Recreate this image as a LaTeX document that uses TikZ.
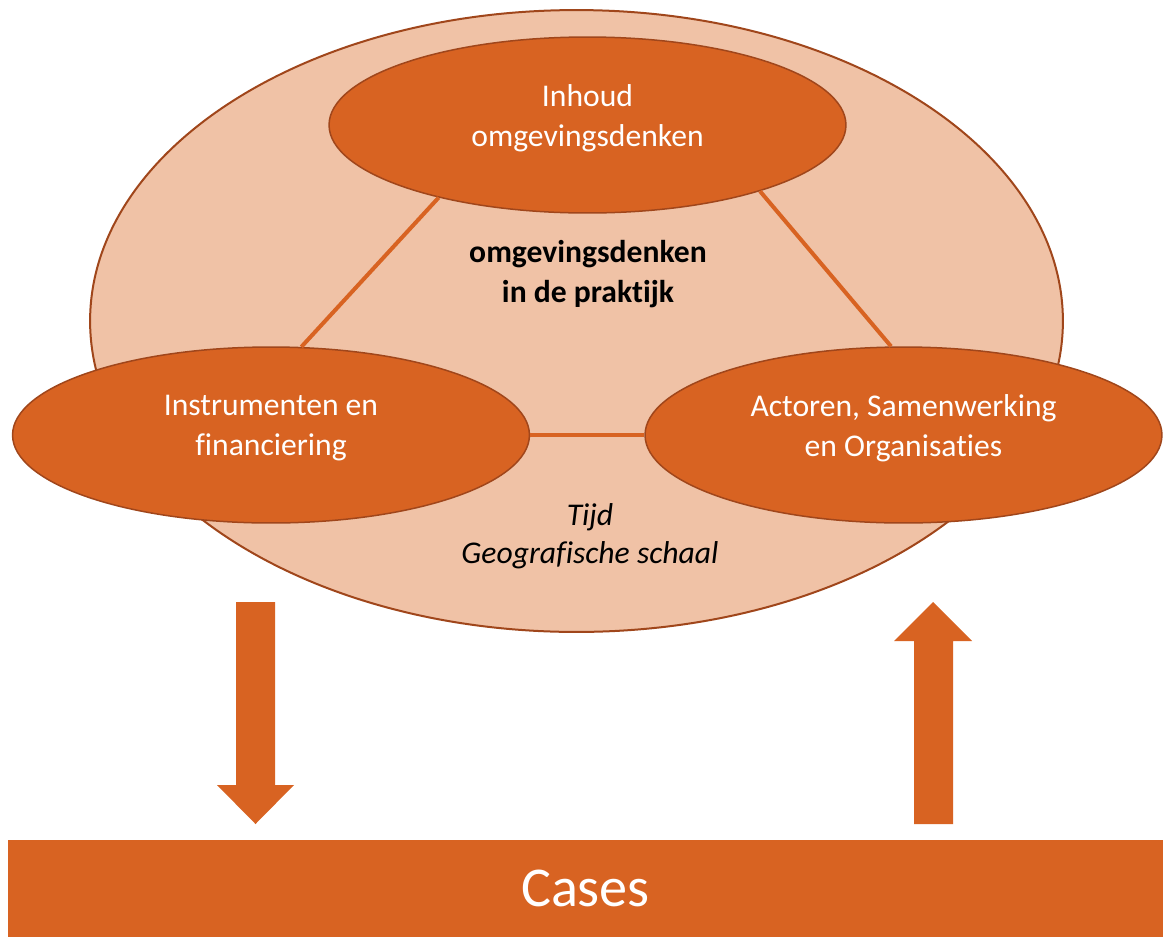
\documentclass[tikz,border=0pt]{standalone}
\usepackage{fontspec}
\setmainfont{Carlito}[Ligatures={NoCommon,NoRare}, Contextuals=NoAlternate]
\usepackage{xcolor}
\usepackage{tikz}
\usetikzlibrary{shapes.geometric}
\definecolor{oranje}{HTML}{D86322}
\definecolor{perzik}{HTML}{F0C2A6}
\definecolor{rand}{HTML}{A0461B}

\begin{document}
\begin{tikzpicture}[x=0.02cm, y=-0.02cm]
	\useasboundingbox (0, 0) rectangle (1163, 937);
	\node[ellipse, draw=rand, line width=0.4mm, fill=perzik, minimum width=19.46cm, minimum height=12.44cm, inner sep=0pt] (P) at (576.5, 321) {};
	
	\begin{scope}[
		vertex/.style={ellipse, align=center, draw=rand, fill=oranje, line width=0.3mm, minimum width=10.34cm, minimum height=3.52cm, inner sep=0pt, text depth=10.5pt, text=white, font=\fontsize{18}{22.7}\selectfont}]
		\node[vertex] (V1) at (587.5, 125) {Inhoud\\omgevingsdenken};
		\node[vertex] (V2) at (271, 435) {Instrumenten en\\financiering};
		\node[vertex] (V3) at (903.5, 435) {Actoren, Samenwerking\\en Organisaties};
	\end{scope}
	
	\draw[-, line width=0.8mm, oranje] (V1.206) edge (V2.71);
	\draw[-, line width=0.8mm, oranje] (V1.339) edge (V3.98);
	\draw[-, line width=0.8mm, oranje] (V2) edge (V3);
	
	\node[align=center, font=\bfseries\fontsize{18}{22.7}\selectfont] (T1) at (588, 274) {omgevingsdenken\\in de praktijk};
	\node[align=center, font=\itshape\fontsize{18}{21.5}\selectfont] (T2) at (590, 536) {Tijd\\Geografische schaal};
	
	\fill[oranje] (236, 602) -- (275, 602) -- (275, 785) -- (294, 785) -- (255.5, 824) -- (217, 785) -- (236, 785) -- cycle;
	\fill[oranje] (914, 824) -- (953, 824) -- (953, 641) -- (972, 641) -- (933, 602) -- (894, 641) -- (914, 641) -- cycle;
	
	\node[fill=oranje, minimum width=23.1cm, minimum height=1.94cm, inner sep=0pt, text=white, font=\fontsize{32}{38}\selectfont] (C) at (585.5, 888.5) {Cases};
\end{tikzpicture}
\end{document}
